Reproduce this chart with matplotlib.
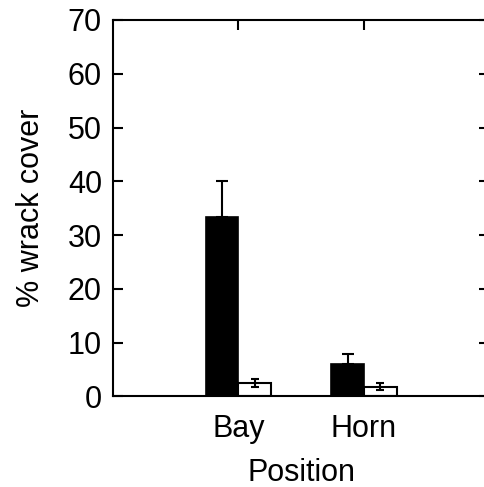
import matplotlib
matplotlib.use("Agg")
import matplotlib.pyplot as plt
import numpy as np

plt.rcParams['font.family'] = ['Liberation Sans', 'DejaVu Sans']

categories = ["Bay", "Horn"]
black_vals = [33.3, 6.0]
black_err = [6.8, 1.8]
white_vals = [2.5, 1.8]
white_err = [0.8, 0.65]

fig = plt.figure(figsize=(4.85, 4.87), dpi=100)
ax = fig.add_axes([0.233, 0.186, 0.776, 0.773])

x = np.arange(1, len(categories) + 1)
w = 0.26
ax.bar(x - w / 2, black_vals, w, color="black", edgecolor="black", linewidth=1.2,
       yerr=[[0] * len(black_err), black_err], capsize=4,
       error_kw=dict(elinewidth=1.5, capthick=1.5, ecolor="black"), zorder=2)
ax.bar(x + w / 2, white_vals, w, color="white", edgecolor="black", linewidth=1.5,
       yerr=white_err, capsize=3,
       error_kw=dict(elinewidth=1.5, capthick=1.5, ecolor="black"), zorder=2)

ax.set_xlim(0, 3)
ax.set_ylim(0, 70)
ax.set_yticks(np.arange(0, 71, 10))
ax.set_xticks(x)
ax.set_xticklabels(categories)
ax.tick_params(direction="in", length=7, width=1.5, labelsize=22,
               top=True, right=True, bottom=False)
ax.tick_params(axis="y", pad=8)
ax.tick_params(axis="x", pad=13)
for s in ax.spines.values():
    s.set_linewidth(1.5)
ax.set_xlabel("Position", fontsize=22, labelpad=10)
ax.set_ylabel("% wrack cover", fontsize=22, labelpad=16)

fig.savefig("out.png", dpi=100)
